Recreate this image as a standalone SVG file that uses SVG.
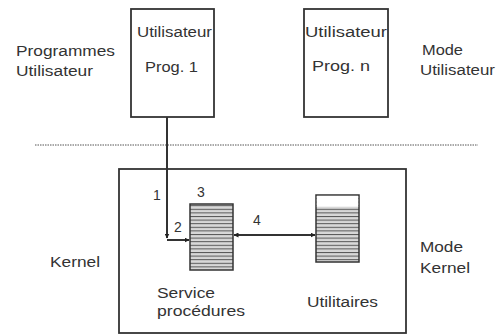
<svg xmlns="http://www.w3.org/2000/svg" width="497" height="336" viewBox="0 0 497 336">
<defs>
<marker id="ah" viewBox="0 0 10 10" refX="9" refY="5" markerWidth="5" markerHeight="5" orient="auto-start-reverse" markerUnits="userSpaceOnUse">
<path d="M0,0 L10,5 L0,10 z" fill="#222"/>
</marker>
<pattern id="hatch" width="4" height="3.6" patternUnits="userSpaceOnUse">
<rect width="4" height="3.6" fill="#d8d8d8"/>
<line x1="0" y1="0.5" x2="4" y2="0.5" stroke="#555" stroke-width="1"/>
</pattern>
</defs>
<style>
.t{font-family:"Liberation Sans",Arial,sans-serif;font-size:14px;fill:#333}
.box{fill:#fff;stroke:#333;stroke-width:1.8}
.ln{stroke:#333;stroke-width:2;fill:none}
</style>
<rect width="497" height="336" fill="#fff"/>
<g id="labels">
<text class="t" x="16" y="56" textLength="99" lengthAdjust="spacingAndGlyphs">Programmes</text>
<text class="t" x="16" y="76" textLength="77" lengthAdjust="spacingAndGlyphs">Utilisateur</text>
<text class="t" x="422" y="55" textLength="41" lengthAdjust="spacingAndGlyphs">Mode</text>
<text class="t" x="420" y="75" textLength="75" lengthAdjust="spacingAndGlyphs">Utilisateur</text>
<text class="t" x="50" y="267" textLength="50" lengthAdjust="spacingAndGlyphs">Kernel</text>
<text class="t" x="420" y="252" textLength="43" lengthAdjust="spacingAndGlyphs">Mode</text>
<text class="t" x="420" y="273" textLength="50" lengthAdjust="spacingAndGlyphs">Kernel</text>
</g>
<line id="separator" x1="35" y1="145" x2="478" y2="145" stroke="#555" stroke-width="1" stroke-dasharray="1.5 1"/>
<g id="prog1">
<rect class="box" x="131" y="9" width="83" height="108"/>
<text class="t" x="137" y="37" textLength="75" lengthAdjust="spacingAndGlyphs">Utilisateur</text>
<text class="t" x="145" y="72" textLength="53" lengthAdjust="spacingAndGlyphs">Prog. 1</text>
</g>
<g id="progn">
<rect class="box" x="304" y="9" width="84" height="108"/>
<text class="t" x="305" y="37" textLength="82" lengthAdjust="spacingAndGlyphs">Utilisateur</text>
<text class="t" x="312" y="71" textLength="58" lengthAdjust="spacingAndGlyphs">Prog. n</text>
</g>
<g id="kernel">
<rect class="box" x="119" y="169" width="287" height="164"/>
</g>
<g id="service">
<rect x="190" y="204" width="43" height="66" fill="url(#hatch)" stroke="#333" stroke-width="1.5"/>
<text class="t" x="197" y="197">3</text>
<text class="t" x="157" y="298" textLength="58" lengthAdjust="spacingAndGlyphs">Service</text>
<text class="t" x="157" y="316" textLength="88" lengthAdjust="spacingAndGlyphs">procédures</text>
</g>
<g id="utilitaires">
<rect x="316" y="195" width="43" height="67" fill="url(#hatch)" stroke="#333" stroke-width="1.5"/>
<rect x="316.8" y="195.8" width="41.4" height="11" fill="#fff"/>
<text class="t" x="307" y="307" textLength="71" lengthAdjust="spacingAndGlyphs">Utilitaires</text>
</g>
<g id="connectors">
<line class="ln" x1="167" y1="117" x2="167" y2="238" marker-end="url(#ah)"/>
<line class="ln" x1="167" y1="240" x2="189" y2="240" marker-end="url(#ah)"/>
<line class="ln" x1="234" y1="235" x2="315" y2="235" marker-start="url(#ah)" marker-end="url(#ah)"/>
<text class="t" x="153" y="200">1</text>
<text class="t" x="174" y="232">2</text>
<text class="t" x="253" y="225">4</text>
</g>
</svg>
